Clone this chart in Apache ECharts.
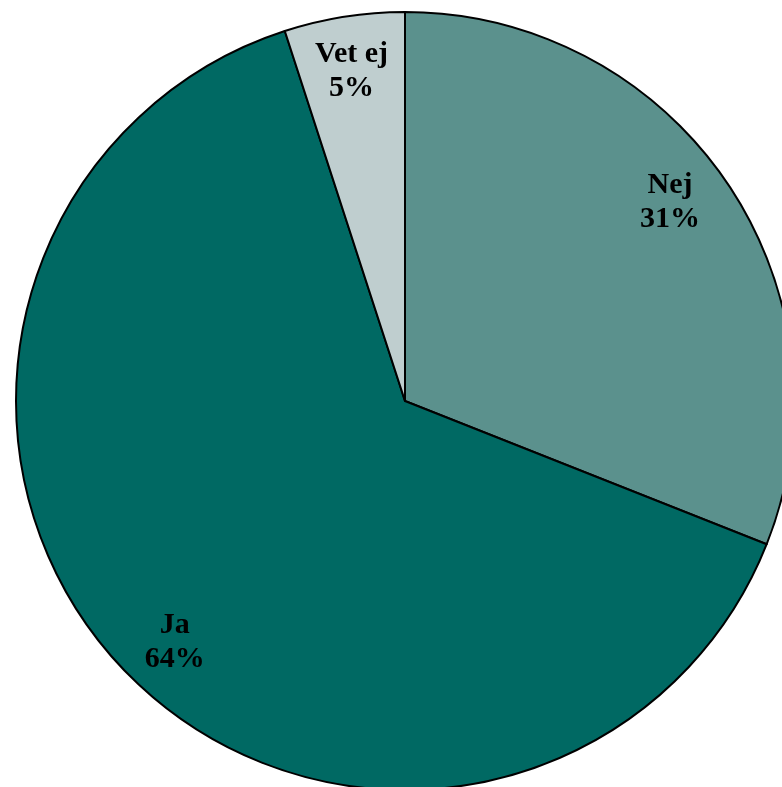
<!DOCTYPE html>
<html><head><meta charset="utf-8">
<script src="https://cdn.jsdelivr.net/npm/echarts@6/dist/echarts.min.js"></script>
<style>html,body{margin:0;padding:0;background:#fff}#c{width:782px;height:787px}</style>
</head><body><div id="c"></div>
<script>
const categories = ['Nej', 'Ja', 'Vet ej'];
const values = [31, 64, 5];
const colors = ['#5b918d', '#006963', '#bfcecf'];
const labelOffsets = [[-12, -10], [14, 12], [-1, 1]];

const chart = echarts.init(document.getElementById('c'));
const data = categories.map((n, i) => ({ name: n, value: values[i], itemStyle: { color: colors[i] } }));
const labelData = categories.map((n, i) => ({ name: n, value: values[i], label: { offset: labelOffsets[i] } }));
chart.setOption({
  animation: false,
  series: [
    {
      type: 'pie',
      center: [405, 401],
      radius: [0, 389],
      startAngle: 90,
      clockwise: true,
      silent: true,
      data: data,
      itemStyle: { borderColor: '#000', borderWidth: 2 },
      label: { show: false },
      labelLine: { show: false }
    },
    {
      type: 'pie',
      center: [405, 401],
      radius: [274, 390],
      startAngle: 90,
      clockwise: true,
      silent: true,
      data: labelData,
      itemStyle: { color: 'transparent', borderWidth: 0 },
      label: {
        show: true,
        position: 'inside',
        formatter: p => p.name + '\n' + p.value + '%',
        fontFamily: 'Liberation Serif',
        fontWeight: 'bold',
        fontSize: 30,
        lineHeight: 34,
        color: '#000'
      },
      labelLine: { show: false }
    }
  ]
});
</script></body></html>
